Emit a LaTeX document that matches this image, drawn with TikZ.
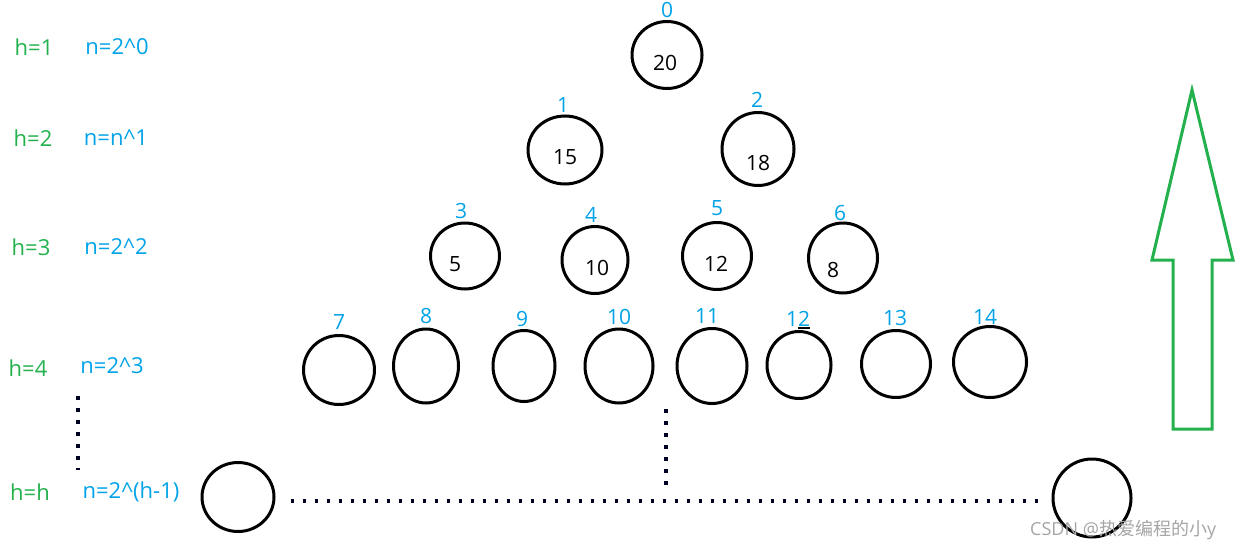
\documentclass[tikz,border=0pt]{standalone}
\usepackage{fontspec}
\setmainfont{Open Sans}
\newfontfamily\cjk{Noto Sans CJK SC}
\usetikzlibrary{shapes.geometric}
\definecolor{pgreen}{RGB}{34,177,76}
\definecolor{pblue}{RGB}{0,162,232}
\definecolor{wm}{RGB}{165,165,165}
\tikzset{
  circ/.style={draw=black, line width=3pt, ellipse, inner sep=0pt},
  val/.style={text=black, font=\fontsize{21}{23}\selectfont, inner sep=0pt},
  idx/.style={text=pblue, font=\fontsize{21}{23}\selectfont, inner sep=0pt},
  hlab/.style={text=pgreen, font=\fontsize{22}{24}\selectfont, inner sep=0pt},
  nlab/.style={text=pblue, font=\fontsize{22}{24}\selectfont, inner sep=0pt},
  dotline/.style={line width=3.5pt, dash pattern=on 3.5pt off 8.5pt, draw=black!85!blue},
  bigarrow/.style={draw=pgreen, line width=3pt, line join=miter}
}
\begin{document}
\begin{tikzpicture}[x=1pt,y=-1pt]
\useasboundingbox (0,0) rectangle (1246,551);
% left labels
\node[hlab] (h1) at (34,47) {h=1};
\node[nlab] (n1) at (117,47) {n=2\string^0};
\node[hlab] (h2) at (33,138) {h=2};
\node[nlab] (n2) at (116,138) {n=n\string^1};
\node[hlab] (h3) at (31,247) {h=3};
\node[nlab] (n3) at (116,247) {n=2\string^2};
\node[hlab] (h4) at (28,368) {h=4};
\node[nlab] (n4) at (112,366) {n=2\string^3};
\node[hlab] (hh) at (30,492) {h=h};
\node[nlab] (nh) at (131,492) {n=2\string^(h-1)};
% row 0
\node[circ, minimum width=70, minimum height=67] (c0) at (667,55) {};
\node[val] (v0) at (665,63) {20};
\node[idx] (i0) at (667,10) {0};
% row 1
\node[circ, minimum width=74, minimum height=68] (c1) at (565,150) {};
\node[val] (v1) at (565,157) {15};
\node[idx] (i1) at (563,105) {1};
\node[circ, minimum width=72, minimum height=73] (c2) at (758,149) {};
\node[val] (v2) at (758,163) {18};
\node[idx] (i2) at (757,100) {2};
% row 2
\node[circ, minimum width=69, minimum height=66] (c3) at (465,256) {};
\node[val] (v3) at (455,264) {5};
\node[idx] (i3) at (461,211) {3};
\node[circ, minimum width=66, minimum height=67] (c4) at (595,260) {};
\node[val] (v4) at (597,268) {10};
\node[idx] (i4) at (591,215) {4};
\node[circ, minimum width=69, minimum height=67] (c5) at (717,256) {};
\node[val] (v5) at (716,264) {12};
\node[idx] (i5) at (717,208) {5};
\node[circ, minimum width=69, minimum height=70] (c6) at (843,258) {};
\node[val] (v6) at (833,270) {8};
\node[idx] (i6) at (840,213) {6};
% row 3
\node[circ, minimum width=71, minimum height=69] (c7) at (339,370) {};
\node[idx] (i7) at (339,322) {7};
\node[circ, minimum width=65, minimum height=74] (c8) at (426,366) {};
\node[idx] (i8) at (426,316) {8};
\node[circ, minimum width=62, minimum height=71] (c9) at (524,366) {};
\node[idx] (i9) at (522,319) {9};
\node[circ, minimum width=68, minimum height=74] (c10) at (619,366) {};
\node[idx] (i10) at (619,317) {10};
\node[circ, minimum width=70, minimum height=75] (c11) at (712,366) {};
\node[idx] (i11) at (707,316) {11};
\node[circ, minimum width=64, minimum height=67] (c12) at (799,365) {};
\node[idx] (i12) at (798,319) {12};
\coordinate (u1) at (798,328);
\coordinate (u2) at (810,328);
\draw[line width=1.5pt] (u1) -- (u2);
\node[circ, minimum width=69, minimum height=67] (c13) at (896,364) {};
\node[idx] (i13) at (895,318) {13};
\node[circ, minimum width=73, minimum height=71] (c14) at (990,362) {};
\node[idx] (i14) at (985,317) {14};
% bottom row
\node[circ, minimum width=72, minimum height=69] (hl) at (238,497) {};
\node[circ, minimum width=78, minimum height=78] (hr) at (1092,498) {};
% dotted lines
\coordinate (dl1) at (78,396);
\coordinate (dl2) at (78,470);
\draw[dotline] (dl1) -- (dl2);
\coordinate (dm1) at (666,409);
\coordinate (dm2) at (666,486);
\draw[dotline] (dm1) -- (dm2);
\draw[dotline] ([xshift=15pt,yshift=-4pt]hl.east) -- ([xshift=-8pt,yshift=-3pt]hr.west);
% green arrow
\draw[bigarrow] (1192,90) -- (1233,260) -- (1212,260) -- (1212,429) -- (1173,429) -- (1173,260) -- (1152,260) -- cycle;
% watermark
\node[text=wm, font=\fontsize{18}{20}\selectfont, inner sep=0pt, anchor=west] (wmk) at (1030,530) {CSDN @{\cjk 热爱编程的小}y};
\end{tikzpicture}
\end{document}
